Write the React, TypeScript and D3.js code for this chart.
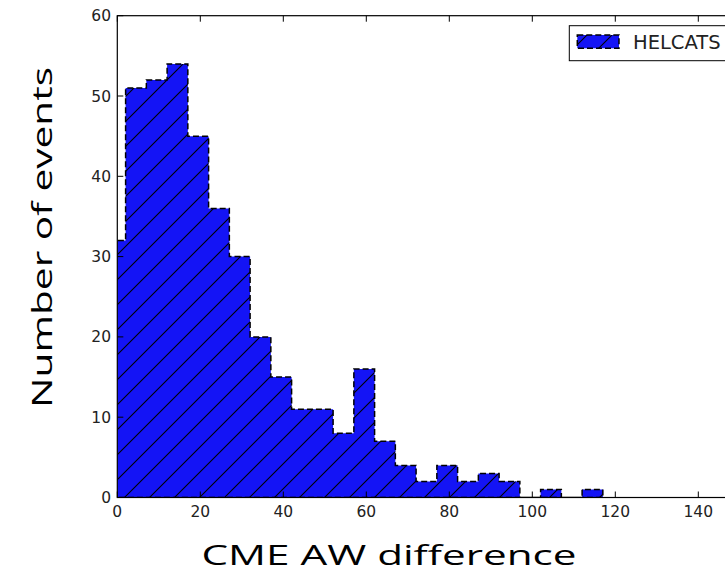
import React from "react";
import * as d3 from "d3";

const binStarts = [-3, 2, 7, 12, 17, 22, 27, 32, 37, 42, 47, 52, 57, 62, 67, 72, 77, 82, 87, 92, 97, 102, 107, 112];
const counts = [32, 51, 52, 54, 45, 36, 30, 20, 15, 11, 11, 8, 16, 7, 4, 2, 4, 2, 3, 2, 0, 1, 0, 1];
const binWidth = 5;
const xTicks = [0, 20, 40, 60, 80, 100, 120, 140];
const yTicks = [0, 10, 20, 30, 40, 50, 60];
const seriesName = "HELCATS";
const xLabel = "CME AW difference";
const yLabel = "Number of events";

const W = 725;
const H = 587;
const left = 117.3;
const top = 15.7;
const bottom = 497.5;
const right = left + 160 * 4.15;

export default function App() {
  const x = d3.scaleLinear().domain([0, 160]).range([left, right]);
  const y = d3.scaleLinear().domain([0, 60]).range([bottom, top]);

  const pts: [number, number][] = [];
  pts.push([x(binStarts[0]), y(0)]);
  binStarts.forEach((s, i) => {
    pts.push([x(s), y(counts[i])]);
    pts.push([x(s + binWidth), y(counts[i])]);
  });
  pts.push([x(binStarts[binStarts.length - 1] + binWidth), y(0)]);
  const line = d3.line();
  const poly = line(pts) + "Z";

  const tickLen = 6;
  const tickFont = "'DejaVu Sans', sans-serif";
  const labelFont = "'Open Sans', 'Noto Sans', sans-serif";
  const blue = "#1414f5";

  return (
    <svg width={W} height={H} style={{ position: "absolute", left: 0, top: 0, background: "#fff" }}>
      <defs>
        <pattern id="hatch" patternUnits="userSpaceOnUse" width={25} height={25} x={22} y={0}>
          <path d="M-5,5 L5,-5 M0,25 L25,0 M20,30 L30,20" stroke="#000" strokeWidth={1.1} fill="none" />
        </pattern>
        <clipPath id="plotclip">
          <rect x={left} y={top} width={right - left} height={bottom - top} />
        </clipPath>
      </defs>
      <rect x={0} y={0} width={W} height={H} fill="#fff" />
      <g clipPath="url(#plotclip)">
        <path d={poly} fill={blue} />
        <path d={poly} fill="url(#hatch)" />
        <path d={poly} fill="none" stroke="#000" strokeWidth={1.5} strokeDasharray="6,3" />
      </g>
      <rect x={left} y={top} width={right - left} height={bottom - top} fill="none" stroke="#000" strokeWidth={1.2} />
      {xTicks.map((t) => (
        <g key={"xt" + t}>
          <line x1={x(t)} x2={x(t)} y1={bottom} y2={bottom - tickLen} stroke="#000" strokeWidth={1} />
          <line x1={x(t)} x2={x(t)} y1={top} y2={top + tickLen} stroke="#000" strokeWidth={1} />
          <text x={x(t)} y={bottom + 19} textAnchor="middle" fontFamily={tickFont} fontSize={15.5} fill="#222">
            {t}
          </text>
        </g>
      ))}
      {yTicks.map((t) => (
        <g key={"yt" + t}>
          <line x1={left} x2={left + tickLen} y1={y(t)} y2={y(t)} stroke="#000" strokeWidth={1} />
          <line x1={right} x2={right - tickLen} y1={y(t)} y2={y(t)} stroke="#000" strokeWidth={1} />
          <text x={111} y={y(t) + 5.5} textAnchor="end" fontFamily={tickFont} fontSize={15.5} fill="#222">
            {t}
          </text>
        </g>
      ))}
      <g>
        <rect x={569.3} y={25.7} width={200} height={35} fill="#fff" stroke="#000" strokeWidth={1} />
        <rect x={577.3} y={35} width={41.7} height={13.3} fill={blue} />
        <rect x={577.3} y={35} width={41.7} height={13.3} fill="url(#hatch)" />
        <rect x={577.3} y={35} width={41.7} height={13.3} fill="none" stroke="#000" strokeWidth={1.5} strokeDasharray="6,3" />
        <text x={633} y={49} fontFamily={tickFont} fontSize={19.5} fill="#222">
          {seriesName}
        </text>
      </g>
      <text x={389} y={565} textAnchor="middle" fontFamily={labelFont} fontWeight={400} fontSize={28} fill="#000"
        textLength={375} lengthAdjust="spacingAndGlyphs">
        {xLabel}
      </text>
      <text transform={`translate(52,237.5) rotate(-90)`} textAnchor="middle" fontFamily={labelFont} fontWeight={400}
        fontSize={28} fill="#000" textLength={341} lengthAdjust="spacingAndGlyphs">
        {yLabel}
      </text>
    </svg>
  );
}
